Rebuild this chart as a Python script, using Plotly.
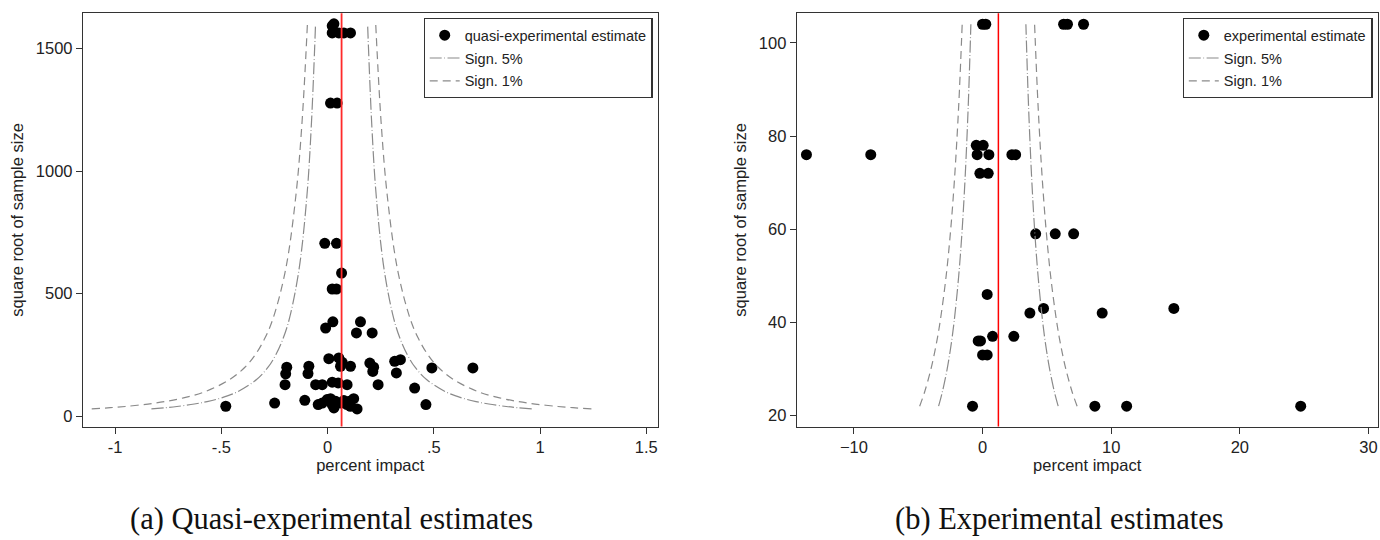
import plotly.graph_objects as go

# ---------------- data: panel (a) quasi-experimental ----------------
quasi_x = [0.022, 0.030, 0.022, 0.053, 0.077, 0.108, 0.014, 0.045,
           -0.013, 0.042, 0.066, 0.022, 0.042, 0.025, 0.155, -0.009, 0.136, 0.210,
           -0.479, -0.249, -0.107, -0.044, -0.002, 0.030, 0.038, 0.061, 0.103, 0.139,
           0.014, 0.108, 0.123, 0.463, 0.410, 0.238, -0.200, -0.056, -0.025, 0.022,
           0.050, 0.092, -0.192, -0.197, -0.088, -0.092, 0.006, 0.053, 0.069, 0.061,
           0.108, 0.199, 0.213, 0.217, 0.316, 0.343, 0.324, 0.491, 0.684, -0.025,
           0.022, 0.077, 0.092]
quasi_y = [1592, 1600, 1563, 1563, 1563, 1563, 1277, 1277,
           705, 705, 584, 519, 519, 385, 385, 360, 340, 340,
           41, 54, 65, 48, 68, 34, 61, 54, 61, 30,
           72, 41, 72, 48, 115, 129, 129, 129, 129, 139,
           136, 129, 200, 173, 204, 174, 235, 238, 220, 204,
           204, 217, 183, 200, 224, 231, 177, 197, 197, 54,
           48, 64, 48]
quasi_mean = 0.066

# funnel (half-widths at given heights)
quasi_funnel_y = [30, 35, 40, 50, 60, 75, 100, 150, 200, 250, 320, 400, 600, 900, 1200, 1595]
quasi_half_5 = [0.895, 0.828, 0.775, 0.693, 0.633, 0.566, 0.490, 0.400, 0.346, 0.310,
                0.274, 0.245, 0.200, 0.163, 0.1415, 0.1227]
quasi_half_1 = [1.176, 1.089, 1.018, 0.911, 0.831, 0.744, 0.644, 0.526, 0.455, 0.407,
                0.360, 0.322, 0.263, 0.215, 0.186, 0.161]

# ---------------- data: panel (b) experimental ----------------
exp_x = [-13.69, -8.69, 0.0, 0.25, 6.3, 6.6, 7.85, -0.49, 0.05, -0.42, 0.49, 2.28, 2.57,
         -0.21, 0.44, 4.13, 5.65, 7.08, 0.36, 3.68, 4.74, 9.30, 14.87, 0.78, 2.43,
         -0.34, -0.16, 0.0, 0.36, -0.78, 8.73, 11.2, 24.73]
exp_y = [76, 76, 104, 104, 104, 104, 104, 78, 78, 76, 76, 76, 76,
         72, 72, 59, 59, 59, 46, 42, 43, 42, 43, 37, 37,
         36, 36, 33, 33, 22, 22, 22, 22]
exp_mean = 1.23

exp_funnel_y = [22, 25, 30, 35, 40, 50, 60, 70, 80, 90, 104]
exp_half_5 = [4.648, 4.36, 3.98, 3.685, 3.447, 3.083, 2.814, 2.605, 2.437, 2.298, 2.138]
exp_half_1 = [6.12, 5.74, 5.24, 4.851, 4.538, 4.059, 3.705, 3.430, 3.209, 3.025, 2.814]

# tick labels
quasi_xticks = [-1, -0.5, 0, 0.5, 1, 1.5]
quasi_xticktext = ["-1", "-.5", "0", ".5", "1", "1.5"]
quasi_yticks = [0, 500, 1000, 1500]
exp_xticks = [-10, 0, 10, 20, 30]
exp_yticks = [20, 40, 60, 80, 100]

# ---------------- figure ----------------
W, H = 1380, 540
FONT = "Liberation Sans, Arial, sans-serif"
SERIF = "Liberation Serif, Times New Roman, serif"
GRAY = "#8a8a8a"
DASH5 = "12px,2.5px,0.8px,2.5px"
DASH1 = "8px,5px"

fig = go.Figure()


def add_panel(xs, ys, mean, fy, h5, h1, xa, ya, leg, label):
    fig.add_trace(go.Scatter(
        x=xs, y=ys, mode="markers", name=label,
        marker=dict(color="black", size=11, line=dict(width=0)),
        xaxis=xa, yaxis=ya, legend=leg))
    for half, dash, nm in ((h5, DASH5, "Sign. 5%"), (h1, DASH1, "Sign. 1%")):
        lx = [mean - h for h in half]
        rx = [mean + h for h in half]
        fig.add_trace(go.Scatter(
            x=lx, y=fy, mode="lines", name=nm,
            line=dict(color=GRAY, width=1.2, dash=dash, shape="spline"),
            xaxis=xa, yaxis=ya, legend=leg, legendgroup=leg + nm))
        fig.add_trace(go.Scatter(
            x=rx, y=fy, mode="lines", name=nm, showlegend=False,
            line=dict(color=GRAY, width=1.2, dash=dash, shape="spline"),
            xaxis=xa, yaxis=ya, legend=leg, legendgroup=leg + nm))


add_panel(quasi_x, quasi_y, quasi_mean, quasi_funnel_y, quasi_half_5, quasi_half_1,
          "x", "y", "legend", "quasi-experimental estimate")
add_panel(exp_x, exp_y, exp_mean, exp_funnel_y, exp_half_5, exp_half_1,
          "x2", "y2", "legend2", "experimental estimate")

# mean lines
fig.add_shape(type="line", xref="x", yref="y domain", x0=quasi_mean, x1=quasi_mean, y0=0, y1=1,
              line=dict(color="#ff2a2a", width=1.8))
fig.add_shape(type="line", xref="x2", yref="y2 domain", x0=exp_mean, x1=exp_mean, y0=0, y1=1,
              line=dict(color="#ff0000", width=1.5))

axis_common = dict(showline=True, mirror=True, linecolor="#333333", linewidth=1.3,
                   ticks="outside", ticklen=6, tickwidth=1.2, tickcolor="#333333",
                   showgrid=False, zeroline=False,
                   tickfont=dict(family=FONT, size=16.5, color="#222222"))
title_font = dict(family=FONT, size=16.5, color="#222222")

y0 = 1 - 426.5 / H
y1 = 1 - 13.3 / H

fig.update_layout(
    width=W, height=H,
    margin=dict(l=0, r=0, t=0, b=0),
    paper_bgcolor="white", plot_bgcolor="white",
    showlegend=True,
    xaxis=dict(domain=[83 / W, 657.5 / W], range=[-1.151, 1.553],
               tickvals=quasi_xticks, ticktext=quasi_xticktext,
               title=dict(text="percent impact", font=title_font, standoff=2),
               anchor="y", **axis_common),
    yaxis=dict(domain=[y0, y1], range=[-41.6, 1643], tickvals=quasi_yticks,
               title=dict(text="square root of sample size", font=title_font, standoff=8),
               anchor="x", **axis_common),
    xaxis2=dict(domain=[796.8 / W, 1377.5 / W], range=[-14.44, 30.7],
                tickvals=exp_xticks,
                title=dict(text="percent impact", font=title_font, standoff=2),
                anchor="y2", **axis_common),
    yaxis2=dict(domain=[y0, y1], range=[17.64, 106.35], tickvals=exp_yticks,
                title=dict(text="square root of sample size", font=title_font, standoff=8),
                anchor="x2", **axis_common),
    legend=dict(x=652.5 / W, y=1 - 18 / H, xanchor="right", yanchor="top",
                bgcolor="white", bordercolor="#333333", borderwidth=1.2,
                font=dict(family=FONT, size=14.5, color="#222222"), tracegroupgap=1,
                itemwidth=30),
    legend2=dict(x=1372.6 / W, y=1 - 18 / H, xanchor="right", yanchor="top",
                 bgcolor="white", bordercolor="#333333", borderwidth=1.2,
                 font=dict(family=FONT, size=14.5, color="#222222"), tracegroupgap=1,
                 itemwidth=30),
    annotations=[
        dict(text="(a) Quasi-experimental estimates", x=331 / W, y=1 - 538 / H,
             xref="paper", yref="paper", showarrow=False, xanchor="center", yanchor="bottom",
             font=dict(family=SERIF, size=30.5, color="#111111")),
        dict(text="(b) Experimental estimates", x=1059 / W, y=1 - 538 / H,
             xref="paper", yref="paper", showarrow=False, xanchor="center", yanchor="bottom",
             font=dict(family=SERIF, size=30.5, color="#111111")),
    ],
)

fig.write_html("out.html", config={"displayModeBar": False},
               post_script="document.body.style.margin='0';document.body.style.overflow='hidden';")
